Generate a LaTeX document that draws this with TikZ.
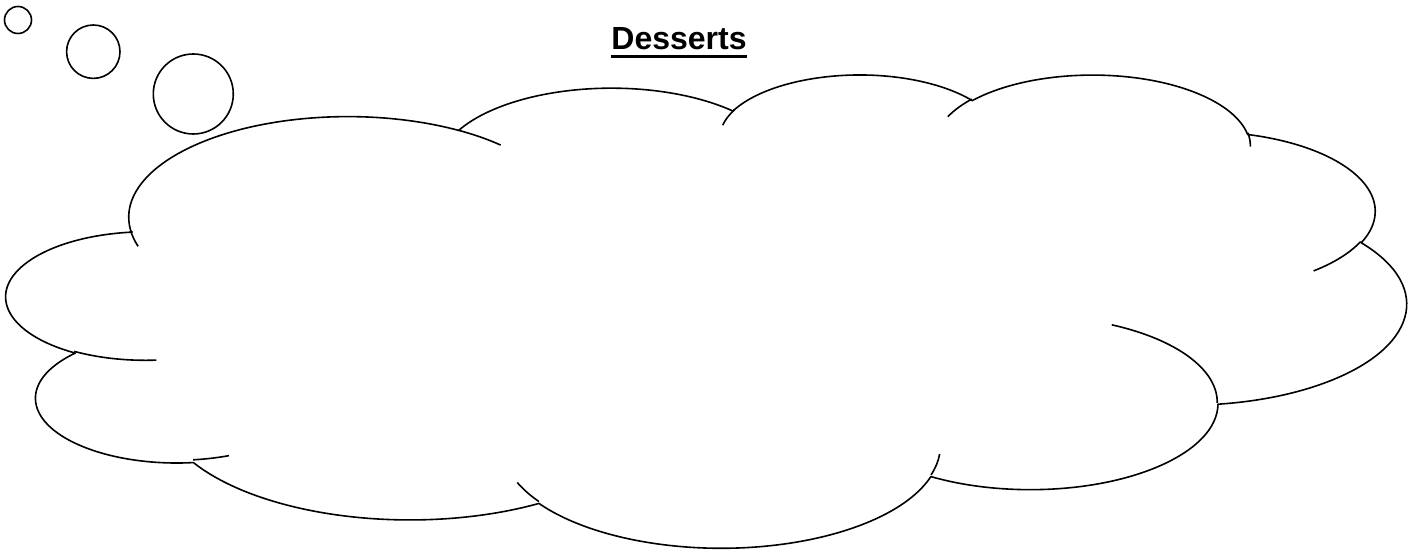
\documentclass[tikz,border=0pt]{standalone}
\usepackage{fontspec}
\setmainfont{Liberation Sans}
\tikzstyle{cloudline} = [draw=black, line width=0.8pt, line join=round]
\tikzstyle{bubble} = [circle, draw=black, line width=0.8pt, inner sep=0pt]
\tikzstyle{heading} = [inner sep=0pt, anchor=base, font=\fontsize{16}{18}\selectfont\bfseries]
% one lobe of the cloud: x radius, y radius, start angle, sweep (angles as seen on the page)
\newcommand{\lobe}[4]{arc[x radius=#1, y radius=#2, start angle={atan2(#1*sin(#3),#2*cos(#3))}, delta angle={mod(atan2(#1*sin(#3+#4),#2*cos(#3+#4))-atan2(#1*sin(#3),#2*cos(#3))+720,360)}]}
\begin{document}
\begin{tikzpicture}[x=0.5pt, y=-0.5pt]
\useasboundingbox (0,0) rectangle (1420,550);
\node (title) [heading] at (679,50) {Desserts};
\draw[line width=1.2pt] ([yshift=-3.3pt]title.base west) -- ([yshift=-3.3pt]title.base east);
% thought bubbles
\node (bubble1) [bubble, minimum size=13.5pt] at (18,20) {};
\node (bubble2) [bubble, minimum size=26.7pt] at (93.3,51.7) {};
\node (bubble3) [bubble, minimum size=40pt] at (193.3,94) {};
% the cloud
\begin{scope}[shift={(4.17,73.44)}, x=1.6226pt, y=-0.54757pt]
\draw[cloudline] (39.00,143.70)
  \lobe{67.53}{91.90}{-190.48748}{123.78053}
  \lobe{53.33}{72.67}{-144.10238}{89.94523}
  \lobe{43.65}{59.45}{-145.80792}{99.72302}
  \lobe{48.57}{65.95}{-130.98607}{117.24173}
  \lobe{53.33}{72.73}{-78.70888}{109.02692}
  \lobe{67.75}{92.20}{-46.26725}{130.269}
  \lobe{57.85}{78.67}{0.62502}{114.03333}
  \lobe{67.52}{92.15}{22.4516}{115.17255}
  \lobe{77.20}{105.43}{66.24263}{75.27477}
  \lobe{43.60}{59.18}{-274.94208}{147.72937}
  \lobe{43.45}{59.45}{-246.8285}{152.52628} -- cycle;
% inner ends of the lobes
\draw[cloudline]
  (46.93,261.77) \lobe{43.45}{59.45}{86.742}{26.4295}
  (69.28,348.99) \lobe{43.60}{59.18}{73.61047}{11.44747}
  (164.78,390.90) \lobe{67.52}{92.15}{137.62415}{14.0811}
  (288.27,347.51) \lobe{67.52}{92.15}{6.45327}{15.99835}
  (341.29,229.54) \lobe{57.85}{78.67}{-70.29235}{70.91737}
  (417.98,153.54) \lobe{53.33}{72.73}{30.31803}{27.7515}
  (383.24,54.26) \lobe{48.57}{65.95}{-13.74433}{14.86598}
  (290.78,39.52) \lobe{48.57}{65.95}{-149.18145}{18.1868}
  (221.41,47.20) \lobe{43.65}{59.45}{-163.49427}{17.68635}
  (140.00,51.92) \lobe{67.53}{91.90}{-66.70695}{12.31935}
  (41.27,157.89) \lobe{67.53}{91.90}{157.65435}{11.85393};
\end{scope}
\end{tikzpicture}
\end{document}
